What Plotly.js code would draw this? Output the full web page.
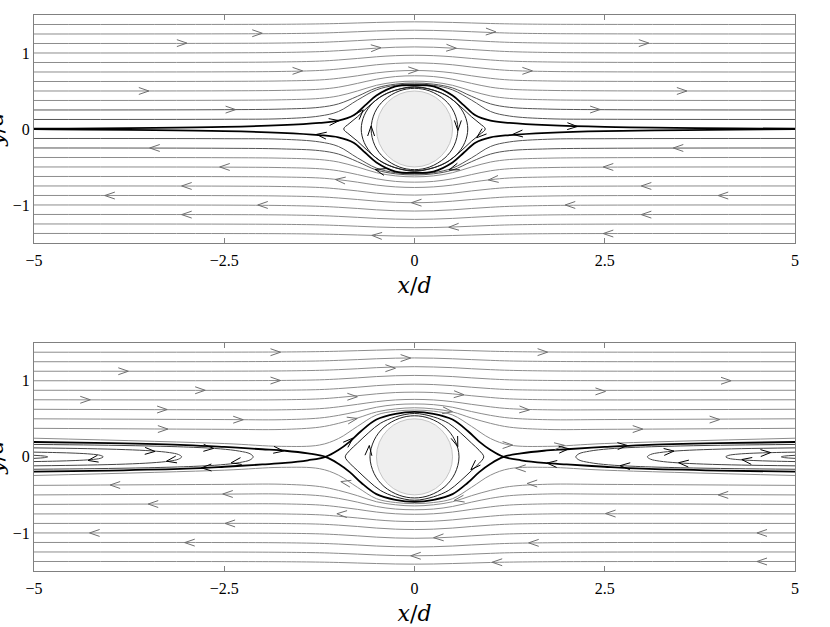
<!DOCTYPE html>
<html>
<head>
<meta charset="utf-8">
<script src="https://cdn.plot.ly/plotly-3.0.1.min.js"></script>
<style>body{margin:0;background:#fff}#flow{width:830px;height:627px}</style>
</head>
<body>
<div id="flow"></div>
<script>
// streamlines are read as half profiles (x >= 0); they are mirrored in x,
// and the lower half-plane is the mirror image in y
var xHalf = [0, 0.25, 0.5, 0.75, 1, 1.25, 1.75, 2.5, 5];

// top panel: far-field lines y = 1.375 ... 0.375 (grey)
var topFar = [
  [1.41, 1.408, 1.402, 1.395, 1.388, 1.383, 1.378, 1.376, 1.375],
  [1.30, 1.297, 1.290, 1.280, 1.270, 1.262, 1.255, 1.252, 1.25],
  [1.19, 1.186, 1.177, 1.163, 1.150, 1.140, 1.131, 1.127, 1.125],
  [1.08, 1.076, 1.064, 1.046, 1.030, 1.018, 1.007, 1.002, 1.0],
  [0.97, 0.965, 0.950, 0.928, 0.908, 0.893, 0.882, 0.877, 0.875],
  [0.87, 0.863, 0.845, 0.815, 0.789, 0.770, 0.757, 0.752, 0.75],
  [0.77, 0.762, 0.738, 0.700, 0.667, 0.645, 0.632, 0.627, 0.625],
  [0.70, 0.690, 0.655, 0.600, 0.550, 0.523, 0.508, 0.502, 0.5],
  [0.63, 0.617, 0.575, 0.500, 0.435, 0.402, 0.384, 0.378, 0.375]
];
// lines y = 0.25 and 0.125, squeezed onto the cylinder (dark)
var topNear = [
  [0.605, 0.590, 0.540, 0.430, 0.330, 0.285, 0.262, 0.254, 0.25],
  [0.59, 0.575, 0.515, 0.380, 0.230, 0.170, 0.135, 0.128, 0.125]
];
var topSepX = [0, 0.25, 0.5, 0.65, 0.8, 1.0, 1.25, 1.75, 2.5, 5];
var topSepY = [0.578, 0.56, 0.44, 0.31, 0.18, 0.11, 0.08, 0.05, 0.028, 0.003];
// closed orbits around the cylinder (upper right quarter)
var topOrbitAX = [0, 0.2, 0.4, 0.52, 0.57];
var topOrbitAY = [0.535, 0.50, 0.38, 0.22, 0];
var topOrbitBX = [0, 0.35, 0.55, 0.66, 0.70];
var topOrbitBY = [0.55, 0.476, 0.34, 0.18, 0];
var topLensX = [0, 0.25, 0.45, 0.6, 0.75, 0.86, 0.93];
var topLensY = [0.557, 0.51, 0.42, 0.30, 0.16, 0.07, 0];

// top panel arrows: centre x, y and heading in degrees
var topGreyArrowX = [-2.07, -3.06, -3.56, -2.42, -3.41, -2.49, -2.99, -4.0, -1.99, -2.99,
  1.0, -0.51, 0.48, -1.54, -0.02, 1.48, -0.97, 1.04, 0.03, 0.52, -0.49,
  3.01, 3.51, 2.37, 3.47, 2.55, 3.05, 4.06, 2.05, 3.05, 2.55];
var topGreyArrowY = [1.26, 1.13, 0.5, 0.255, -0.25, -0.5, -0.75, -0.876, -1.0, -1.127,
  1.28, 1.066, 1.066, 0.765, 0.772, 0.765, -0.672, -0.664, -0.97, -1.29, -1.404,
  1.13, 0.5, 0.256, -0.25, -0.5, -0.75, -0.876, -1.0, -1.127, -1.376];
var topGreyArrowDir = [0, 0, 0, 0, 180, 180, 180, 180, 180, 180,
  -2, 3, -3, 0, 0, 0, 174, 186, 180, 183, 177,
  0, 0, 0, 180, 180, 180, 180, 180, 180, 180];
var topDarkArrowX = [-1.06, 2.07, -1.22, 1.36, -0.72, -0.57, 0.57, 0.87, 0.52, -0.45];
var topDarkArrowY = [0.1, 0.035, -0.08, -0.065, 0.2, -0.03, 0.05, -0.07, -0.515, -0.55];
var topDarkArrowDir = [8, -2, 173, 185, 48, 90, -90, 220, 200, 165];

// bottom panel: far-field lines y = 1.375 ... 0.25
var botFar = [
  [1.41, 1.408, 1.402, 1.395, 1.388, 1.383, 1.378, 1.376, 1.375],
  [1.30, 1.297, 1.289, 1.278, 1.268, 1.260, 1.254, 1.251, 1.25],
  [1.185, 1.181, 1.172, 1.158, 1.146, 1.137, 1.129, 1.126, 1.125],
  [1.07, 1.066, 1.055, 1.038, 1.023, 1.012, 1.004, 1.001, 1.0],
  [0.955, 0.950, 0.936, 0.915, 0.897, 0.884, 0.876, 0.874, 0.875],
  [0.85, 0.845, 0.828, 0.803, 0.780, 0.762, 0.750, 0.748, 0.75],
  [0.755, 0.748, 0.725, 0.690, 0.657, 0.633, 0.618, 0.618, 0.625],
  [0.695, 0.686, 0.652, 0.595, 0.545, 0.510, 0.488, 0.490, 0.5],
  [0.645, 0.630, 0.590, 0.510, 0.440, 0.390, 0.360, 0.362, 0.375],
  [0.615, 0.600, 0.550, 0.400, 0.240, 0.155, 0.138, 0.175, 0.245]
];
// separatrix through the two stagnation points (x = +-1.17)
var botSepX = [0, 0.25, 0.5, 0.7, 0.85, 1.0, 1.17, 1.4, 1.7, 2.0, 2.5, 3, 4, 5];
var botSepY = [0.59, 0.565, 0.49, 0.34, 0.2, 0.09, 0, -0.045, -0.08, -0.1, -0.13, -0.155, -0.18, -0.195];
var botOrbitAX = [0, 0.2, 0.4, 0.53, 0.585];
var botOrbitAY = [0.54, 0.505, 0.39, 0.22, 0];
var botLensX = [0, 0.25, 0.45, 0.6, 0.75, 0.85, 0.91];
var botLensY = [0.57, 0.525, 0.44, 0.32, 0.18, 0.085, 0];
// reversing (hairpin) streamlines in the wake, upper leg from the tip outward
var hairpinX = [
  [2.12, 2.16, 2.3, 2.55, 2.9, 3.5, 4.2, 5],
  [3.06, 3.1, 3.22, 3.45, 3.8, 4.3, 5],
  [4.09, 4.13, 4.25, 4.45, 4.7, 5],
  [4.82, 4.86, 5]
];
var hairpinY = [
  [0, 0.04, 0.075, 0.105, 0.125, 0.143, 0.155, 0.163],
  [0, 0.03, 0.056, 0.078, 0.095, 0.108, 0.118],
  [0, 0.02, 0.036, 0.048, 0.056, 0.062],
  [0, 0.01, 0.02]
];

var botGreyArrowX = [-1.83, -3.83, -1.83, -2.82, -4.33, -3.32, -2.32, -3.31,
  -3.93, -2.45, -3.43, -2.42, -4.2, -2.95,
  1.68, -0.12, -0.32, -0.82, 0.58, 0.43, -0.82, 1.44, 1.22, 1.9,
  1.4, -0.9, 1.55, 0.59, -0.95, 0.32, 1.57, 0.02, 1.09,
  4.09, 2.44, 3.94, 2.93, 4.06, 2.58, 4.57, 4.57];
var botGreyArrowY = [1.375, 1.125, 1.003, 0.875, 0.75, 0.622, 0.488, 0.365,
  -0.37, -0.488, -0.62, -0.875, -1.0, -1.127,
  1.376, 1.298, 1.165, 0.79, 0.82, 0.603, 0.49, 0.62, 0.155, 0.145,
  -0.15, -0.34, -0.35, -0.56, -0.75, -1.06, -1.13, -1.30, -1.385,
  1.0, 0.86, 0.49, 0.365, -0.5, -0.745, -1.0, -1.375];
var botGreyArrowDir = [0, 0, 0, 0, 0, 0, 0, 0,
  180, 180, 180, 180, 180, 180,
  0, 0, 0, 0, -3, -8, 12, -3, 0, 5,
  180, 168, 180, 190, 178, 182, 180, 180, 180,
  0, 0, 0, 0, 180, 180, 180, 180];
var botDarkArrowX = [-1.79, -2.71, -3.48, -4.22, -3.19, -2.34, -2.73,
  1.96, 2.73, 3.34, 4.61, 2.77, 3.54, 4.37, 1.81,
  -0.6, 0.545, 0.79, -0.86];
var botDarkArrowY = [0.085, 0.115, 0.075, -0.035, -0.045, -0.066, -0.142,
  0.1, 0.145, 0.07, 0.053, -0.12, -0.083, -0.045, -0.088,
  0.08, 0.2, -0.12, 0.2];
var botDarkArrowDir = [-7, -3, -3, 190, 190, 190, 182,
  5, 3, 5, 3, 177, 175, 172, 175,
  85, -70, 225, 42];

var cylR = 0.5;

// ---- helpers ----
function evenCurve(xh, yh, sy) {
  var x = [], y = [], i;
  for (i = xh.length - 1; i > 0; i--) { x.push(-xh[i]); y.push(sy * yh[i]); }
  for (i = 0; i < xh.length; i++) { x.push(xh[i]); y.push(sy * yh[i]); }
  return {x: x, y: y};
}
function loop(xh, yh) {
  var x = [], y = [], n = xh.length, i;
  for (i = 0; i < n; i++) { x.push(xh[i]); y.push(yh[i]); }
  for (i = n - 2; i >= 0; i--) { x.push(xh[i]); y.push(-yh[i]); }
  for (i = 1; i < n; i++) { x.push(-xh[i]); y.push(-yh[i]); }
  for (i = n - 2; i >= 0; i--) { x.push(-xh[i]); y.push(yh[i]); }
  return {x: x, y: y};
}
function hairpin(xs, ys, sx) {
  var x = [], y = [], i;
  for (i = xs.length - 1; i > 0; i--) { x.push(sx * xs[i]); y.push(-ys[i]); }
  for (i = 0; i < xs.length; i++) { x.push(sx * xs[i]); y.push(ys[i]); }
  return {x: x, y: y};
}
function group(curves, color, width, ax) {
  var x = [], y = [];
  curves.forEach(function (c) { x = x.concat(c.x, [null]); y = y.concat(c.y, [null]); });
  return {x: x, y: y, mode: 'lines', xaxis: 'x' + ax, yaxis: 'y' + ax, hoverinfo: 'skip',
    line: {color: color, width: width, shape: 'spline', smoothing: 1}};
}
function chevrons(ax, ay, adir, color, axis) {
  var x = [], y = [], L = 0.14, half = 19 * Math.PI / 180;
  for (var i = 0; i < ax.length; i++) {
    var a = adir[i] * Math.PI / 180;
    var tx = ax[i] + 0.5 * L * Math.cos(a), ty = ay[i] + 0.5 * L * Math.sin(a);
    x.push(tx - L * Math.cos(a + half), tx, tx - L * Math.cos(a - half), null);
    y.push(ty - L * Math.sin(a + half), ty, ty - L * Math.sin(a - half), null);
  }
  return {x: x, y: y, mode: 'lines', xaxis: 'x' + axis, yaxis: 'y' + axis, hoverinfo: 'skip',
    line: {color: color, width: 1}};
}

var GREY = '#8c8c8c', DARK = '#222', BLACK = '#000';
var data = [];

// top panel
var tg = [], tn = [];
topFar.forEach(function (r) { tg.push(evenCurve(xHalf, r, 1), evenCurve(xHalf, r, -1)); });
topNear.forEach(function (r) { tn.push(evenCurve(xHalf, r, 1), evenCurve(xHalf, r, -1)); });
data.push(group(tg, GREY, 1, ''));
data.push(group(tn, '#555', 1, ''));
data.push(group([loop(topOrbitAX, topOrbitAY), loop(topOrbitBX, topOrbitBY), loop(topLensX, topLensY)], DARK, 1, ''));
data.push(group([evenCurve(topSepX, topSepY, 1), evenCurve(topSepX, topSepY, -1)], BLACK, 1.8, ''));
data.push(chevrons(topGreyArrowX, topGreyArrowY, topGreyArrowDir, '#6e6e6e', ''));
data.push(chevrons(topDarkArrowX, topDarkArrowY, topDarkArrowDir, BLACK, ''));

// bottom panel
var bg = [], bh = [];
botFar.forEach(function (r) { bg.push(evenCurve(xHalf, r, 1), evenCurve(xHalf, r, -1)); });
hairpinX.forEach(function (hx, i) { bh.push(hairpin(hx, hairpinY[i], 1), hairpin(hx, hairpinY[i], -1)); });
data.push(group(bg, GREY, 1, '2'));
data.push(group(bh, '#444', 1, '2'));
data.push(group([loop(botOrbitAX, botOrbitAY), loop(botLensX, botLensY)], DARK, 1, '2'));
data.push(group([evenCurve(botSepX, botSepY, 1), evenCurve(botSepX, botSepY, -1)], BLACK, 1.8, '2'));
data.push(chevrons(botGreyArrowX, botGreyArrowY, botGreyArrowDir, '#6e6e6e', '2'));
data.push(chevrons(botDarkArrowX, botDarkArrowY, botDarkArrowDir, BLACK, '2'));

var tickFont = {family: 'Liberation Serif', size: 16, color: '#000'};
var titleFont = {family: 'DejaVu Serif', size: 22, color: '#000'};
function xAxis(anchor) {
  return {range: [-5, 5], anchor: anchor, showline: true, mirror: 'ticks', linecolor: '#808080',
    linewidth: 1, ticks: 'inside', ticklen: 5, tickcolor: '#808080', showgrid: false, zeroline: false,
    tickvals: [-5, -2.5, 0, 2.5, 5], ticktext: ['\u22125', '\u22122.5', '0', '2.5', '5'],
    tickfont: tickFont, ticklabelstandoff: 3, fixedrange: true,
    title: {text: '<i>x</i>/<i>d</i>', font: titleFont, standoff: 9}};
}
function yAxis(anchor, domain) {
  return {range: [-1.5, 1.5], anchor: anchor, domain: domain, showline: true, mirror: true,
    linecolor: '#808080', linewidth: 1, ticks: '', showgrid: false, zeroline: false,
    tickvals: [-1, 0, 1], ticktext: ['\u22121', '0', '1'], tickfont: tickFont, fixedrange: true};
}
function cylinder(ax) {
  return {type: 'circle', xref: 'x' + ax, yref: 'y' + ax, x0: -cylR, x1: cylR, y0: -cylR, y1: cylR,
    fillcolor: '#efefef', line: {color: '#c4c4c4', width: 1}, layer: 'below'};
}
// y/d label, pushed past the left edge of the page as in the original
function yLabel(py) {
  return {text: '<i>y</i>/<i>d</i>', xref: 'paper', yref: 'paper', x: -0.05, y: py,
    xanchor: 'center', yanchor: 'middle', textangle: -90, showarrow: false, font: titleFont};
}

var layout = {
  width: 830, height: 627,
  margin: {l: 34, r: 35, t: 15, b: 56},
  paper_bgcolor: '#fff', plot_bgcolor: '#fff',
  showlegend: false, hovermode: false,
  xaxis: xAxis('y'), yaxis: yAxis('x', [0.59, 1]),
  xaxis2: xAxis('y2'), yaxis2: yAxis('x2', [0, 0.4106]),
  shapes: [cylinder(''), cylinder('2')],
  annotations: [yLabel(0.7955), yLabel(0.2056)]
};

Plotly.newPlot('flow', data, layout, {staticPlot: true});
</script>
</body>
</html>
